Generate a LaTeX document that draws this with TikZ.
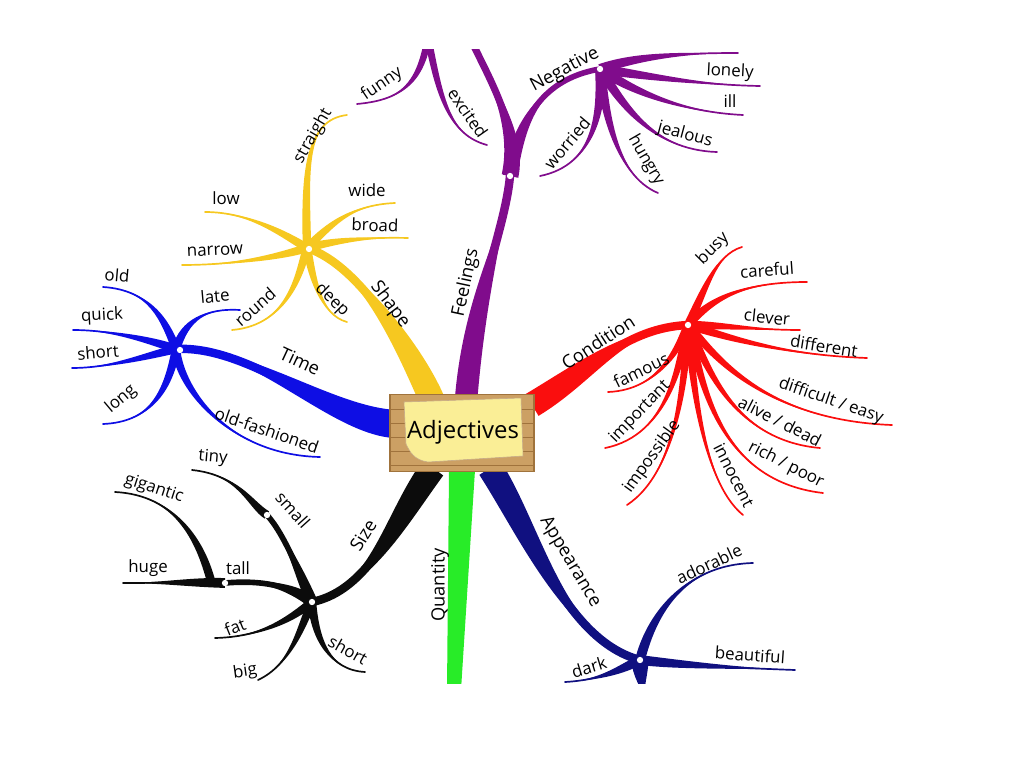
\documentclass[tikz,border=0pt]{standalone}
\usepackage{fontspec}
\setmainfont{Open Sans}
\usetikzlibrary{calc}

\definecolor{timeblue}{RGB}{14,14,228}
\definecolor{shapeyellow}{RGB}{246,200,32}
\definecolor{feelpurple}{RGB}{128,12,140}
\definecolor{condred}{RGB}{250,14,14}
\definecolor{sizeblack}{RGB}{12,12,12}
\definecolor{quantgreen}{RGB}{40,236,40}
\definecolor{looknavy}{RGB}{16,16,128}
\definecolor{boardtan}{RGB}{204,160,100}
\definecolor{boardedge}{RGB}{160,115,60}
\definecolor{noteyellow}{RGB}{250,238,150}

% tapered branch: style, half width, start, control 1, control 2, end
\newcommand{\limb}[6]{%
  \fill[#1] ($(#3)!#2!90:(#4)$) .. controls ($(#4)!#2!-90:(#3)$) and (#5) .. (#6)
    .. controls (#5) and ($(#4)!#2!90:(#3)$) .. ($(#3)!#2!-90:(#4)$) -- cycle;
  \draw[#1] (#3) .. controls (#4) and (#5) .. (#6);}

\tikzset{
  word/.style={font=\fontsize{12}{14}\selectfont, inner sep=0pt},
  bigword/.style={font=\fontsize{13}{15}\selectfont, inner sep=0pt},
  hubdot/.style={circle, fill=white, inner sep=0pt, minimum size=4.5pt},
  twig/.style={line width=1.2pt, line cap=round},
  trunk/.style={line width=6pt, line cap=round},
  board/.style={draw=boardedge, fill=boardtan, line width=0.8pt,
    minimum width=3.6cm, minimum height=1.92cm, inner sep=0pt},
}

\begin{document}
\begin{tikzpicture}[x=0.025cm, y=-0.025cm]
\useasboundingbox (0,0) rectangle (1024,767);

\begin{scope}
\clip (0,50) rectangle (1024,683);

% hubs and exits from the board
\coordinate (th) at (176,349);
\coordinate (sh) at (307,248);
\coordinate (fh) at (510,176);
\coordinate (nh) at (600,69);
\coordinate (fp) at (428,38);
\coordinate (ftop) at (470,38);
\coordinate (ch) at (688,325);
\coordinate (zh) at (312,602);
\coordinate (sm) at (267,515);
\coordinate (tl) at (225,583);
\coordinate (gg) at (211,581);
\coordinate (ah) at (640,660);
\coordinate (tS) at (395,424);
\coordinate (sS) at (432,400);
\coordinate (fS) at (466,400);
\coordinate (cS) at (532,405);
\coordinate (zS) at (433,468);
\coordinate (aS) at (490,468);

% leaf ends
\coordinate (old) at (103,287);
\coordinate (quick) at (73,330);
\coordinate (tshort) at (72,368);
\coordinate (long) at (103,424);
\coordinate (late) at (240,310);
\coordinate (oldf) at (320,457);
\coordinate (straight) at (347,115);
\coordinate (wide) at (395,203);
\coordinate (broad) at (408,238);
\coordinate (low) at (205,212);
\coordinate (narrow) at (182,265);
\coordinate (round) at (232,330);
\coordinate (deep) at (347,322);
\coordinate (funny) at (357,104);
\coordinate (excited) at (487,145);
\coordinate (ntop) at (738,53);
\coordinate (lonely) at (760,86);
\coordinate (ill) at (743,115);
\coordinate (jealous) at (717,152);
\coordinate (hungry) at (658,193);
\coordinate (worried) at (540,176);
\coordinate (busy) at (742,247);
\coordinate (careful) at (807,282);
\coordinate (clever) at (800,330);
\coordinate (different) at (867,358);
\coordinate (difficult) at (892,425);
\coordinate (alive) at (820,448);
\coordinate (rich) at (823,493);
\coordinate (innocent) at (743,515);
\coordinate (impossible) at (627,505);
\coordinate (important) at (605,448);
\coordinate (famous) at (608,392);
\coordinate (tiny) at (192,470);
\coordinate (gigantic) at (115,492);
\coordinate (huge) at (123,583);
\coordinate (fat) at (215,638);
\coordinate (big) at (258,680);
\coordinate (zshort) at (365,672);
\coordinate (adorable) at (753,563);
\coordinate (beautiful) at (795,670);
\coordinate (dark) at (565,682);
\coordinate (astub) at (646,700);

% Quantity
\coordinate (q1) at (449,470);
\coordinate (q2) at (475,470);
\coordinate (q3) at (461,690);
\coordinate (q4) at (447,690);
\fill[quantgreen] (q1) -- (q2) -- (q3) -- (q4) -- cycle;

% Time
\limb{timeblue, trunk}{10pt}{tS}{330,420}{250,345}{th}
\limb{timeblue, twig}{3pt}{th}{165,320}{150,290}{old}
\limb{timeblue, twig}{3pt}{th}{150,340}{110,330}{quick}
\limb{timeblue, twig}{3pt}{th}{150,355}{110,368}{tshort}
\limb{timeblue, twig}{3pt}{th}{168,392}{150,422}{long}
\limb{timeblue, twig}{3pt}{th}{185,320}{205,308}{late}
\limb{timeblue, twig}{3pt}{th}{180,390}{230,455}{oldf}

% Shape
\limb{shapeyellow, trunk}{9pt}{sS}{410,350}{360,265}{sh}
\limb{shapeyellow, twig}{3pt}{sh}{305,170}{305,120}{straight}
\limb{shapeyellow, twig}{3pt}{sh}{330,225}{350,205}{wide}
\limb{shapeyellow, twig}{3pt}{sh}{335,240}{370,237}{broad}
\limb{shapeyellow, twig}{3pt}{sh}{285,235}{250,212}{low}
\limb{shapeyellow, twig}{3pt}{sh}{285,255}{240,265}{narrow}
\limb{shapeyellow, twig}{3pt}{sh}{300,270}{290,325}{round}
\limb{shapeyellow, twig}{3pt}{sh}{312,275}{320,315}{deep}

% Feelings
\limb{feelpurple, trunk}{8pt}{fS}{475,290}{505,230}{fh}
\limb{feelpurple, line width=5pt, line cap=round}{6pt}{fh}{520,130}{490,80}{ftop}
\limb{feelpurple, line width=4pt, line cap=round}{5pt}{fh}{518,130}{535,80}{nh}
\limb{feelpurple, twig}{2.5pt}{fp}{420,85}{400,100}{funny}
\limb{feelpurple, twig}{2.5pt}{fp}{440,100}{450,135}{excited}
\limb{feelpurple, twig}{3.5pt}{nh}{640,55}{690,53}{ntop}
\limb{feelpurple, twig}{3.5pt}{nh}{640,75}{700,85}{lonely}
\limb{feelpurple, twig}{3.5pt}{nh}{630,90}{680,112}{ill}
\limb{feelpurple, twig}{3.5pt}{nh}{620,100}{650,150}{jealous}
\limb{feelpurple, twig}{3.5pt}{nh}{605,110}{615,175}{hungry}
\limb{feelpurple, twig}{3.5pt}{nh}{602,110}{595,165}{worried}

% Condition
\limb{condred, trunk}{9pt}{cS}{590,370}{625,328}{ch}
\limb{condred, twig}{3pt}{ch}{705,290}{715,255}{busy}
\limb{condred, twig}{3pt}{ch}{710,300}{740,282}{careful}
\limb{condred, twig}{3pt}{ch}{720,325}{760,330}{clever}
\limb{condred, twig}{3pt}{ch}{720,335}{780,355}{different}
\limb{condred, twig}{3pt}{ch}{710,350}{760,420}{difficult}
\limb{condred, twig}{3pt}{ch}{705,360}{730,440}{alive}
\limb{condred, twig}{3pt}{ch}{700,365}{710,480}{rich}
\limb{condred, twig}{3pt}{ch}{692,370}{700,480}{innocent}
\limb{condred, twig}{3pt}{ch}{685,370}{680,470}{impossible}
\limb{condred, twig}{3pt}{ch}{680,360}{670,435}{important}
\limb{condred, twig}{3pt}{ch}{680,345}{660,390}{famous}

% Size
\limb{sizeblack, trunk}{9pt}{zS}{395,520}{370,590}{zh}
\limb{sizeblack, line width=4pt, line cap=round}{4pt}{zh}{300,575}{285,535}{sm}
\limb{sizeblack, line width=4pt, line cap=round}{4pt}{zh}{290,585}{260,580}{tl}
\limb{sizeblack, twig}{3pt}{sm}{250,505}{240,475}{tiny}
\limb{sizeblack, twig}{3.5pt}{tl}{190,582}{160,583}{huge}
\limb{sizeblack, twig}{3pt}{gg}{200,540}{175,495}{gigantic}
\limb{sizeblack, twig}{3pt}{zh}{290,620}{260,637}{fat}
\limb{sizeblack, twig}{3pt}{zh}{300,630}{290,665}{big}
\limb{sizeblack, twig}{3pt}{zh}{315,640}{330,670}{zshort}

% Appearance
\limb{looknavy, trunk}{9pt}{aS}{530,530}{565,640}{ah}
\limb{looknavy, twig}{3.5pt}{ah}{650,620}{680,565}{adorable}
\limb{looknavy, twig}{3.5pt}{ah}{680,665}{740,668}{beautiful}
\limb{looknavy, twig}{3.5pt}{ah}{620,670}{600,680}{dark}
\limb{looknavy, twig}{6pt}{ah}{640,675}{642,690}{astub}

% white dots on the hubs
\node[hubdot] (thdot) at (180,350) {};
\node[hubdot] (shdot) at (309,249) {};
\node[hubdot] (fhdot) at (510,176) {};
\node[hubdot] (nhdot) at (600,69) {};
\node[hubdot] (chdot) at (688,325) {};
\node[hubdot] (zhdot) at (312,602) {};
\node[hubdot] (smdot) at (267,515) {};
\node[hubdot] (tldot) at (225,583) {};
\node[hubdot] (ahdot) at (640,660) {};
\end{scope}

% board in the middle
\node[board] (board) at (462,433) {};
\foreach \y in {409,423,437,451,465}
  \draw[boardedge, line width=0.5pt] (391,\y) -- (534,\y);
\fill[noteyellow, draw=boardedge!60, line width=0.4pt]
  (404,402) -- (521,398) -- (523,456) -- (428,462)
  .. controls (414,460) and (410,452) .. (406,444) -- cycle;
\node[font=\fontsize{17}{19}\selectfont] (adj) at (463,432) {Adjectives};

% labels
\node[bigword, rotate=-25] (Ltime) at (300,361) {Time};
\node[word, rotate=-5] (Lold) at (117,275) {old};
\node[word, rotate=3] (Lquick) at (102,316) {quick};
\node[word, rotate=5] (Ltshort) at (98,352) {short};
\node[word, rotate=40] (Llong) at (121,399) {long};
\node[word, rotate=5] (Llate) at (215,296) {late};
\node[word, rotate=-19] (Loldf) at (267,430) {old-fashioned};

\node[bigword, rotate=-53] (Lshape) at (390,305) {Shape};
\node[word, rotate=60] (Lstraight) at (313,136) {straight};
\node[word] (Lwide) at (367,190) {wide};
\node[word, rotate=-2] (Lbroad) at (375,225) {broad};
\node[word] (Llow) at (226,198) {low};
\node[word, rotate=3] (Lnarrow) at (215,251) {narrow};
\node[word, rotate=41] (Lround) at (255,307) {round};
\node[word, rotate=-44] (Ldeep) at (332,300) {deep};

\node[bigword, rotate=78] (Lfeelings) at (466,283) {Feelings};
\node[bigword, rotate=28] (Lnegative) at (565,70) {Negative};
\node[word, rotate=34] (Lfunny) at (382,84) {funny};
\node[word, rotate=-55] (Lexcited) at (468,113) {excited};
\node[word, rotate=-3] (Llonely) at (730,72) {lonely};
\node[word] (Lill) at (730,101) {ill};
\node[word, rotate=-15] (Ljealous) at (685,135) {jealous};
\node[word, rotate=-60] (Lhungry) at (646,160) {hungry};
\node[word, rotate=50] (Lworried) at (567,143) {worried};

\node[bigword, rotate=33] (Lcondition) at (598,342) {Condition};
\node[word, rotate=45] (Lbusy) at (713,249) {busy};
\node[word, rotate=4] (Lcareful) at (767,270) {careful};
\node[word, rotate=-6] (Lclever) at (767,317) {clever};
\node[word, rotate=-9] (Ldifferent) at (824,346) {different};
\node[word, rotate=-19] (Ldifficult) at (831,401) {difficult / easy};
\node[word, rotate=-27] (Lalive) at (780,421) {alive / dead};
\node[word, rotate=-27] (Lrich) at (786,465) {rich / poor};
\node[word, rotate=-63] (Linnocent) at (734,475) {innocent};
\node[word, rotate=54] (Limpossible) at (652,457) {impossible};
\node[word, rotate=46] (Limportant) at (640,412) {important};
\node[word, rotate=26] (Lfamous) at (641,370) {famous};

\node[bigword, rotate=58] (Lsize) at (363,535) {Size};
\node[word, rotate=-48] (Lsmall) at (293,510) {small};
\node[word, rotate=-5] (Ltiny) at (213,458) {tiny};
\node[word, rotate=-18] (Lgigantic) at (154,489) {gigantic};
\node[word] (Lhuge) at (148,568) {huge};
\node[word] (Ltall) at (238,568) {tall};
\node[word, rotate=22] (Lfat) at (235,627) {fat};
\node[word, rotate=8] (Lbig) at (245,672) {big};
\node[word, rotate=-29] (Lzshort) at (348,650) {short};

\node[bigword, rotate=90] (Lquantity) at (440,585) {Quantity};

\node[bigword, rotate=-59] (Lappearance) at (570,562) {Appearance};
\node[word, rotate=25] (Ladorable) at (709,564) {adorable};
\node[word, rotate=-4] (Lbeautiful) at (750,655) {beautiful};
\node[word, rotate=17] (Ldark) at (589,667) {dark};
\end{tikzpicture}
\end{document}
